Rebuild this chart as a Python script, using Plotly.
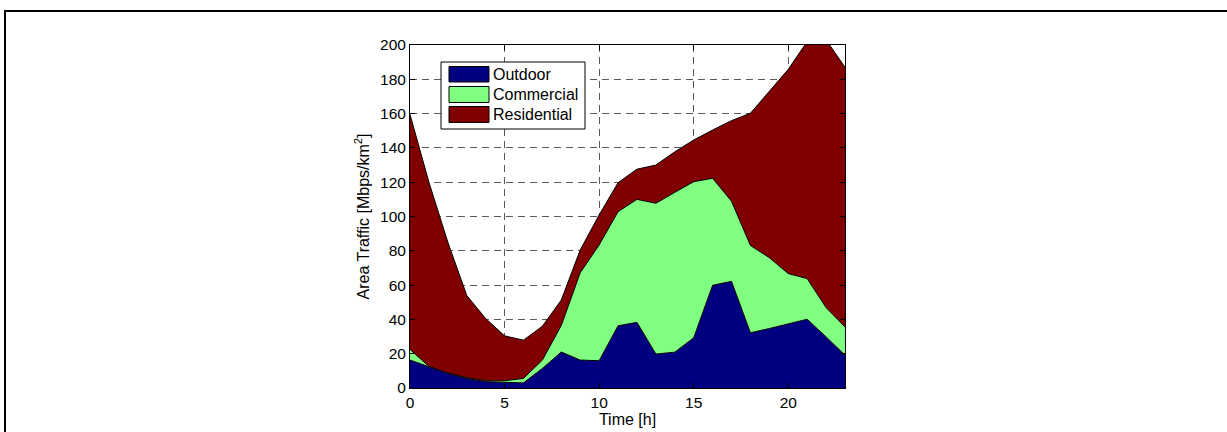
import plotly.graph_objects as go

hours = [0, 1, 2, 3, 4, 5, 6, 7, 8, 9, 10, 11, 12, 13, 14, 15, 16, 17, 18, 19, 20, 21, 22, 23]
outdoor = [16.3, 12.4, 8.5, 5.6, 3.7, 3.3, 3.0, 11.4, 21.0, 16.3, 15.9, 36.3, 38.3, 19.8,
           20.9, 29.3, 59.9, 62.2, 32.2, 34.7, 37.6, 40.1, 29.8, 19.2]
commercial = [6.2, 0.2, 0.3, 0.4, 0.5, 0.9, 2.6, 4.9, 15.5, 50.9, 67.5, 66.5, 71.7, 87.9,
              93.2, 91.0, 62.4, 46.7, 50.9, 41.3, 29.1, 23.7, 17.1, 16.4]
residential = [137.0, 107.4, 76.2, 48.0, 36.3, 26.2, 22.3, 19.7, 14.8, 13.3, 17.5, 16.9, 17.6,
               22.3, 23.6, 24.3, 28.1, 47.0, 77.1, 96.8, 119.1, 138.2, 156.1, 151.4]

series_names = ["Outdoor", "Commercial", "Residential"]
series_colors = ["#000080", "#80FF80", "#800000"]
series_values = [outdoor, commercial, residential]

x_ticks = [0, 5, 10, 15, 20]
y_ticks = [0, 20, 40, 60, 80, 100, 120, 140, 160, 180, 200]

FONT = "Liberation Sans, Arial, Helvetica, sans-serif"
W, H = 1227, 432
L, R, T, B = 410, 845, 45, 388

fig = go.Figure()
for name, color, vals in zip(series_names, series_colors, series_values):
    fig.add_trace(go.Scatter(
        x=hours, y=vals, name=name, mode="lines", stackgroup="one",
        fillcolor=color, line=dict(color="black", width=1),
        showlegend=False, hoverinfo="x+y+name"))


def px(x):
    return (x - L) / (R - L)


def py(y):
    return (B - y) / (B - T)


shapes = []
# outer figure frame (top and left edges; the rest runs off the page)
shapes.append(dict(type="line", xref="paper", yref="paper",
                   x0=px(4), x1=px(1227), y0=py(11), y1=py(11),
                   line=dict(color="black", width=2), layer="above"))
shapes.append(dict(type="line", xref="paper", yref="paper",
                   x0=px(5), x1=px(5), y0=py(10), y1=py(432),
                   line=dict(color="black", width=2), layer="above"))
# legend box
shapes.append(dict(type="rect", xref="paper", yref="paper",
                   x0=px(441), x1=px(585), y0=py(129), y1=py(62),
                   line=dict(color="black", width=1), fillcolor="white", layer="above"))
annotations = []
rows = [(66.5, 82), (86.5, 102.5), (106.5, 122.5)]
for (y0, y1), name, color in zip(rows, series_names, series_colors):
    shapes.append(dict(type="rect", xref="paper", yref="paper",
                       x0=px(449), x1=px(489), y0=py(y1), y1=py(y0),
                       line=dict(color="black", width=1), fillcolor=color, layer="above"))
    annotations.append(dict(xref="paper", yref="paper", x=px(491), y=py((y0 + y1) / 2),
                            text=name, showarrow=False, xanchor="left", yanchor="middle",
                            font=dict(family=FONT, size=16, color="black")))

fig.update_layout(
    width=W, height=H,
    margin=dict(l=L, r=W - R, t=T, b=H - B, pad=0, autoexpand=False),
    paper_bgcolor="white", plot_bgcolor="white",
    font=dict(family=FONT, size=16, color="black"),
    shapes=shapes, annotations=annotations,
    showlegend=False,
)
fig.update_xaxes(
    range=[0, 23], tickvals=x_ticks, ticktext=[str(v) for v in x_ticks],
    ticks="inside", ticklen=5, tickcolor="black", mirror="ticks",
    showline=True, linecolor="black", linewidth=1, automargin=False,
    showgrid=True, gridcolor="#5a5a5a", griddash="7px,5px", gridwidth=1,
    zeroline=False, layer="above traces",
    title=dict(text="Time [h]", font=dict(family=FONT, size=16), standoff=4),
    tickfont=dict(family=FONT, size=15.5),
)
fig.update_yaxes(
    range=[0, 200], tickvals=y_ticks, ticktext=[str(v) for v in y_ticks],
    ticks="inside", ticklen=5, tickcolor="black", mirror="ticks",
    showline=True, linecolor="black", linewidth=1, automargin=False,
    showgrid=True, gridcolor="#5a5a5a", griddash="7px,5px", gridwidth=1,
    zeroline=False, layer="above traces",
    title=dict(text="Area Traffic [Mbps/km<sup>2</sup>]", font=dict(family=FONT, size=16), standoff=6),
    tickfont=dict(family=FONT, size=15.5),
)

fig.write_html("out.html", config={"displayModeBar": False},
               post_script="document.body.style.margin='0px';")
